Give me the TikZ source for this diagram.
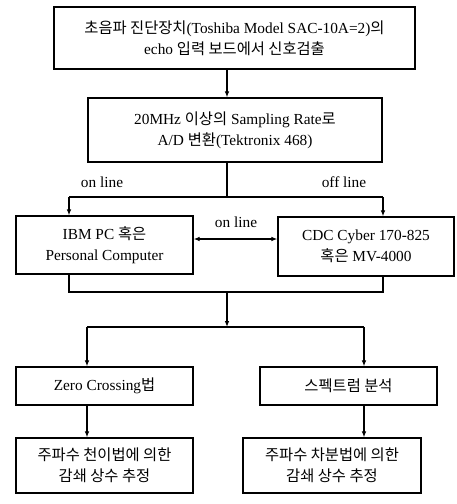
\documentclass[tikz,border=0pt]{standalone}
\usepackage{fontspec}
\setmainfont{Liberation Serif}
\newfontfamily\krfont{Noto Sans CJK KR}
\newcommand{\kr}[1]{{\krfont #1}}
\usetikzlibrary{arrows.meta}

\tikzset{
  box/.style={draw, line width=1pt, inner sep=0pt, align=center,
    font=\fontsize{11.5}{16}\selectfont},
  wire/.style={line width=1pt},
  flow/.style={line width=1pt, -{Latex[length=4.5pt,width=3.5pt]}},
  lbl/.style={font=\fontsize{11.5}{13}\selectfont}
}

\begin{document}
\begin{tikzpicture}[x=0.75pt, y=-0.75pt]
\useasboundingbox (0,0) rectangle (457,504);

% boxes
\node[box, minimum width=270.75pt, minimum height=46.5pt] (detect) at (234.5,38)
  {\kr{초음파 진단장치}(Toshiba Model SAC-10A=2)\kr{의}\\echo \kr{입력 보드에서 신호검출}};
\node[box, minimum width=220.5pt, minimum height=48pt] (adconv) at (235,130)
  {20MHz \kr{이상의} Sampling Rate\kr{로}\\A/D \kr{변환}(Tektronix 468)};
\node[box, minimum width=132.75pt, minimum height=43.5pt] (pc) at (104.5,245)
  {IBM PC \kr{혹은}\\Personal Computer};
\node[box, minimum width=132pt, minimum height=44.25pt] (cyber) at (366,246.5)
  {CDC Cyber 170-825\\\kr{혹은} MV-4000};
\node[box, minimum width=132.75pt, minimum height=28.5pt] (zero) at (104.5,386)
  {Zero Crossing\kr{법}};
\node[box, minimum width=132.75pt, minimum height=28.5pt] (spec) at (348.5,386)
  {\kr{스펙트럼 분석}};
\node[box, minimum width=132.75pt, minimum height=41.25pt] (shift) at (104.5,465.5)
  {\kr{주파수 천이법에 의한}\\\kr{감쇄 상수 추정}};
\node[box, minimum width=133.5pt, minimum height=41.25pt] (diff) at (332,465.5)
  {\kr{주파수 차분법에 의한}\\\kr{감쇄 상수 추정}};

% branch points
\coordinate (split) at (227,197);
\coordinate (splitL) at (69,197);
\coordinate (splitR) at (383,197);
\coordinate (joinL) at (69,292);
\coordinate (joinR) at (383,292);
\coordinate (join) at (227,292);
\coordinate (fork) at (227,327);
\coordinate (forkL) at (87,327);
\coordinate (forkR) at (364,327);

% connectors
\draw[flow] (detect.south -| split) -- (adconv.north -| split);
\draw[wire] (adconv.south -| split) -- (split);
\draw[wire] (splitL) -- (splitR);
\draw[flow] (splitL) -- (splitL |- pc.north);
\draw[flow] (splitR) -- (splitR |- cyber.north);
\draw[line width=1pt, {Latex[length=4.5pt,width=3.5pt]}-{Latex[length=4.5pt,width=3.5pt]}]
  (pc.east |- 0,239) -- (cyber.west |- 0,239);
\draw[wire] (joinL |- pc.south) -- (joinL) -- (joinR) -- (joinR |- cyber.south);
\draw[flow] (join) -- (fork);
\draw[wire] (forkL) -- (forkR);
\draw[flow] (forkL) -- (forkL |- zero.north);
\draw[flow] (forkR) -- (forkR |- spec.north);
\draw[flow] (zero.south -| forkL) -- (shift.north -| forkL);
\draw[flow] (spec.south -| forkR) -- (diff.north -| forkR);

% labels
\node[lbl] (onA) at (102,182) {on line};
\node[lbl] (offA) at (344,182) {off line};
\node[lbl] (onB) at (236,222) {on line};
\end{tikzpicture}
\end{document}
